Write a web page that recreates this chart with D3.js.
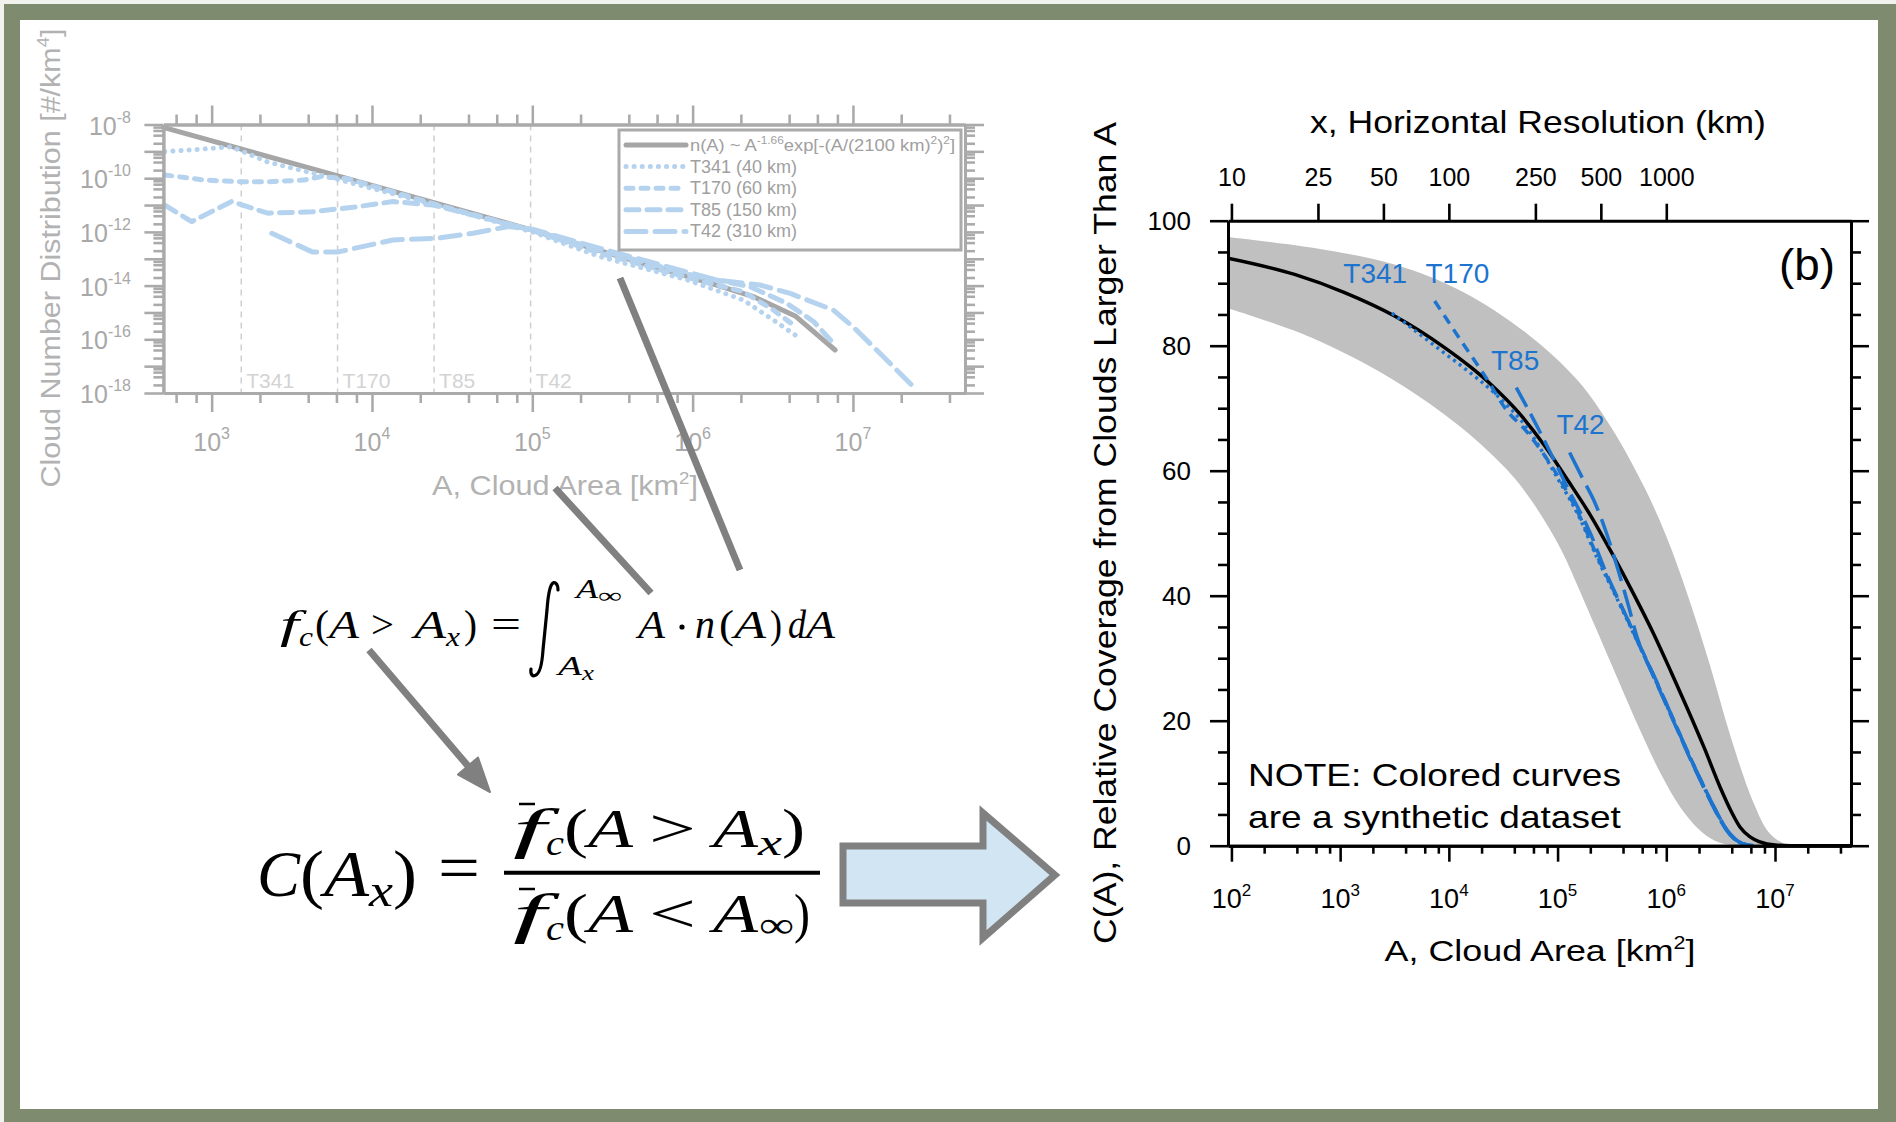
<!DOCTYPE html>
<html>
<head>
<meta charset="utf-8">
<title>Cloud number distribution and relative coverage</title>
<script src="https://cdn.jsdelivr.net/npm/d3@7/dist/d3.min.js"></script>
<style>
  html, body { margin: 0; padding: 0; background: #fff; }
  svg { display: block; }
  text { font-family: "Liberation Sans", Arial, Helvetica, sans-serif; }
  .math text { font-family: "Liberation Serif", "Times New Roman", serif; }
</style>
</head>
<body>
<svg id="fig" width="1896" height="1122"></svg>
<script>
// ---------------- Panel (a): cloud number distribution, pairs [A (km^2), n (#/km^4)] ----------------
const distFit = [[5.0e2, 7.8e-9], [1.0e4, 5.4e-11], [1.0e5, 1.17e-12], [2.64e5, 2.0e-13],
  [1.41e6, 1.05e-14], [2.39e6, 3.9e-15], [4.36e6, 7.4e-16], [7.74e6, 4.0e-17]];
const distT341 = [[510, 9.8e-10], [800, 1.17e-9], [1330, 1.48e-9], [2240, 4.0e-10], [6170, 8.9e-11],
  [2.5e4, 1.0e-11], [1.0e5, 1.0e-12], [2.64e5, 1.2e-13], [9.3e5, 1.62e-14], [2.07e6, 2.9e-15],
  [3.19e6, 5.2e-16], [4.36e6, 1.45e-16]];
const distT170 = [[510, 1.32e-10], [904, 8.5e-11], [1510, 7.4e-11], [2240, 7.4e-11], [3730, 8.5e-11],
  [4820, 1.15e-10], [7080, 9.5e-11], [2.5e4, 1.05e-11], [1.0e5, 1.12e-12], [2.64e5, 1.6e-13],
  [1.0e6, 1.8e-14], [2.07e6, 5.9e-15], [3.19e6, 1.23e-15], [4.26e6, 3.4e-16]];
const distT85 = [[510, 1.0e-11], [750, 2.4e-12], [1330, 1.35e-11], [2240, 5.0e-12], [4240, 5.6e-12],
  [7940, 8.5e-12], [1.35e4, 1.35e-11], [2.4e4, 1.0e-11], [1.0e5, 1.17e-12], [2.64e5, 2.1e-13],
  [1.0e6, 2.4e-14], [2.28e6, 9.1e-15], [3.86e6, 2.2e-15], [5.68e6, 4.6e-16], [7.55e6, 7.1e-17]];
const distT42 = [[2370, 8.9e-13], [4240, 1.8e-13], [6170, 1.8e-13], [1.35e4, 5.0e-13], [2.56e4, 5.8e-13],
  [4.27e4, 8.9e-13], [7.1e4, 1.58e-12], [1.0e5, 1.26e-12], [2.64e5, 2.45e-13], [1.41e6, 1.62e-14],
  [2.63e6, 1.05e-14], [4.06e6, 5.1e-15], [7.55e6, 1.23e-15], [1.0e7, 2.95e-16], [1.55e7, 2.24e-17],
  [2.44e7, 1.48e-18]];
const distLegendNames = ["T341 (40 km)", "T170 (60 km)", "T85 (150 km)", "T42 (310 km)"];
const guideArea = [1530, 6100, 24400, 97600];
const guideNames = ["T341", "T170", "T85", "T42"];
const distExpX = [3, 4, 5, 6, 7];
const distExpY = [-8, -10, -12, -14, -16, -18];

// ---------------- Panel (b): relative coverage C(A) in percent, pairs [A (km^2), C] ----------------
const covFit = [[93, 94.0], [381, 91.4], [1100, 88.5], [3170, 84.75], [9140, 79.7], [1.58e4, 76.6],
  [2.51e4, 73.6], [4.33e4, 69.4], [7.6e4, 64.0], [1.26e5, 58.3], [2.0e5, 52.9], [3.16e5, 46.8],
  [5.0e5, 40.3], [7.6e5, 34.0], [1.12e6, 27.6], [1.54e6, 22.2], [2.24e6, 15.6], [3.12e6, 9.4],
  [3.98e6, 5.4], [4.76e6, 3.0], [5.89e6, 1.4], [7.28e6, 0.6], [1.0e7, 0.1], [1.4e7, 0], [5.0e7, 0]];
const covBandUpper = [[93, 97.4], [540, 95.7], [3160, 93.0], [1.3e4, 88.75], [5.35e4, 81.8],
  [1.54e5, 74.4], [3.12e5, 66.9], [6.3e5, 57.3], [1.0e6, 49.5], [1.58e6, 40.0], [2.51e6, 29.0],
  [3.98e6, 17.0], [6.3e6, 7.0], [8.9e6, 2.0], [1.26e7, 0.2], [1.5e7, 0]];
const covBandLower = [[93, 86.0], [542, 81.3], [3170, 74.4], [1.3e4, 66.9], [3.75e4, 59.4],
  [5.6e4, 55.5], [7.9e4, 51.5], [1.12e5, 46.8], [1.58e5, 41.0], [2.29e5, 34.5], [3.55e5, 26.8],
  [5.73e5, 18.5], [8.9e5, 11.5], [1.34e6, 6.2], [2.0e6, 2.6], [2.8e6, 0.8], [4.0e6, 0.1]];
const covT341 = [[3000, 85.2], [3980, 83.6], [7400, 80.0], [1.41e4, 76.3], [2.64e4, 72.4],
  [5.35e4, 66.6], [1.0e5, 58.8], [1.58e5, 52.6], [2.29e5, 46.2], [3.55e5, 39.4], [5.35e5, 32.9],
  [7.94e5, 26.5], [1.16e6, 20.1], [1.66e6, 14.0], [2.36e6, 8.4], [2.88e6, 5.4], [3.6e6, 2.5],
  [4.27e6, 1.0], [5.1e6, 0.3], [6.3e6, 0]];
const covT170 = [[7400, 87.15], [1.3e4, 80.75], [2.29e4, 74.4], [3.26e4, 70.1], [5.35e4, 66.0],
  [1.0e5, 59.2], [1.58e5, 52.9], [2.29e5, 46.5], [3.55e5, 39.6], [5.35e5, 33.1], [7.94e5, 26.6],
  [1.16e6, 20.2], [1.66e6, 14.1], [2.36e6, 8.5], [2.88e6, 5.5], [3.6e6, 2.6], [4.27e6, 1.1],
  [5.1e6, 0.3], [6.3e6, 0]];
const covT85 = [[4.17e4, 73.3], [7.08e4, 65.8], [9.4e4, 61.5], [1.26e5, 57.0], [2.0e5, 50.0],
  [2.82e5, 43.5], [4.0e5, 37.8], [5.35e5, 33.0], [7.94e5, 26.4], [1.16e6, 20.0], [1.66e6, 13.9],
  [2.36e6, 8.3], [2.88e6, 5.3], [3.6e6, 2.4], [4.27e6, 1.0], [5.1e6, 0.3], [6.3e6, 0]];
const covT42 = [[1.29e5, 62.9], [1.73e5, 58.5], [2.19e5, 55.0], [2.82e5, 50.0], [3.55e5, 44.5],
  [4.47e5, 38.5], [5.35e5, 33.5], [7.94e5, 26.7], [1.16e6, 20.2], [1.66e6, 14.1], [2.36e6, 8.5],
  [2.88e6, 5.5], [3.6e6, 2.6], [4.27e6, 1.1], [5.1e6, 0.3], [6.3e6, 0]];
const covLabelNames = ["T341", "T170", "T85", "T42"];
const covLabelArea = [1070, 6100, 24400, 97600];
const covLabelValue = [90.1, 90.1, 76.1, 65.8];
const covExpX = [2, 3, 4, 5, 6, 7];
const covTicksY = [0, 20, 40, 60, 80, 100];
const covMinorY = [5, 10, 15, 25, 30, 35, 45, 50, 55, 65, 70, 75, 85, 90, 95];
const resolutionTicks = [10, 25, 50, 100, 250, 500, 1000];

// ---------------- helpers ----------------
const svg = d3.select("#fig");
const W = 1896, H = 1122;

function decadeTicks([lo, hi]) {
  const out = [];
  for (let e = Math.floor(Math.log10(lo)); e <= Math.ceil(Math.log10(hi)); e++) {
    const v = Math.pow(10, e);
    if (v >= lo * 0.999 && v <= hi * 1.001) out.push(v);
  }
  return out;
}
function minorLogTicks([lo, hi]) {
  const out = [];
  for (let e = Math.floor(Math.log10(lo)) - 1; e <= Math.ceil(Math.log10(hi)); e++)
    for (const m of [2, 4, 6, 8]) {
      const v = m * Math.pow(10, e);
      if (v >= lo * 0.999 && v <= hi * 1.001) out.push(v);
    }
  return out;
}
function tickAxis(parent, axisFn, scale, values, size, transform, color, width) {
  const a = parent.append("g").attr("transform", transform)
    .call(axisFn(scale).tickValues(values).tickSize(size).tickSizeOuter(0).tickFormat(() => ""));
  a.select(".domain").attr("stroke", color).attr("stroke-width", width);
  a.selectAll(".tick line").attr("stroke", color).attr("stroke-width", width * 0.85);
  a.selectAll(".tick text").remove();
  return a;
}
function powLabel(parent, x, y, exp, size, supSize, raise, anchor, color) {
  const t = parent.append("text").attr("x", x).attr("y", y).attr("text-anchor", anchor)
    .attr("font-size", size).attr("fill", color);
  t.append("tspan").text("10");
  t.append("tspan").attr("font-size", supSize).attr("dy", -raise).text(exp);
  return t;
}
// text drawn centred at (cx, y) and stretched horizontally to a given width
function fitText(parent, cx, y, width, size, color, build, rotate = 0, dy = 0) {
  const g = parent.append("g");
  const t = g.append("text").attr("text-anchor", "middle").attr("font-size", size)
    .attr("fill", color).attr("y", dy);
  build(t);
  const w = t.node().getComputedTextLength();
  g.attr("transform", `translate(${cx},${y}) rotate(${rotate}) scale(${width / w},1)`);
  return t;
}

// ---------------- slide frame ----------------
svg.append("rect").attr("width", W).attr("height", H).attr("fill", "#f1f2ee");
svg.append("rect").attr("x", 4).attr("y", 4).attr("width", W - 4).attr("height", H - 4).attr("fill", "#7f8b6e");
svg.append("rect").attr("x", 20).attr("y", 20).attr("width", 1858).attr("height", 1089).attr("fill", "#ffffff");

// ---------------- panel (a) ----------------
const gA = svg.append("g");
const xL = d3.scaleLog().domain([5e2, 5e7]).range([163.4, 965]);
const yL = d3.scaleLog().domain([1e-18, 1e-8]).range([393, 124.5]);
const axisGrey = "#aaaaaa";
const paleBlue = "#b5d3ee";

gA.selectAll("line.guide").data(guideArea).join("line").attr("class", "guide")
  .attr("x1", d => xL(d)).attr("x2", d => xL(d))
  .attr("y1", yL(1e-8)).attr("y2", yL(1e-18))
  .attr("stroke", "#cfcfcf").attr("stroke-width", 1.5).attr("stroke-dasharray", "6,5");
gA.selectAll("text.guide").data(guideNames).join("text").attr("class", "guide")
  .attr("x", (d, i) => xL(guideArea[i]) + 5).attr("y", 388)
  .attr("font-size", 21).attr("fill", "#d3d3d3").text(d => d);

const lineL = d3.line().x(d => xL(d[0])).y(d => yL(d[1]));
const distStyles = [
  { data: distFit, color: "#a6a6a6", dash: null, cap: "round" },
  { data: distT341, color: paleBlue, dash: "0.1,8", cap: "round" },
  { data: distT170, color: paleBlue, dash: "7,8", cap: "round" },
  { data: distT85, color: paleBlue, dash: "13,8", cap: "round" },
  { data: distT42, color: paleBlue, dash: "20,9", cap: "round" }
];
distStyles.forEach(s => {
  gA.append("path").attr("d", lineL(s.data)).attr("fill", "none")
    .attr("stroke", s.color).attr("stroke-width", 5).attr("stroke-linecap", s.cap)
    .attr("stroke-linejoin", "round").attr("stroke-dasharray", s.dash);
});

// axes of panel (a)
const xLdom = xL.domain(), yLdom = yL.domain();
tickAxis(gA, d3.axisBottom, xL, decadeTicks(xLdom), 19, `translate(0,${yL(1e-18)})`, axisGrey, 3);
tickAxis(gA, d3.axisBottom, xL, minorLogTicks(xLdom), 10, `translate(0,${yL(1e-18)})`, axisGrey, 3);
tickAxis(gA, d3.axisTop, xL, decadeTicks(xLdom), 19, `translate(0,${yL(1e-8)})`, axisGrey, 3);
tickAxis(gA, d3.axisTop, xL, minorLogTicks(xLdom), 10, `translate(0,${yL(1e-8)})`, axisGrey, 3);
tickAxis(gA, d3.axisLeft, yL, decadeTicks(yLdom), 19, `translate(${xL(5e2)},0)`, axisGrey, 3);
tickAxis(gA, d3.axisLeft, yL, minorLogTicks(yLdom), 10, `translate(${xL(5e2)},0)`, axisGrey, 3);
tickAxis(gA, d3.axisRight, yL, decadeTicks(yLdom), 19, `translate(${xL(5e7)},0)`, axisGrey, 3);
tickAxis(gA, d3.axisRight, yL, minorLogTicks(yLdom), 10, `translate(${xL(5e7)},0)`, axisGrey, 3);

distExpX.forEach(e => powLabel(gA, xL(Math.pow(10, e)), 451, String(e), 25, 16, 12, "middle", "#a8a8a8"));
distExpY.forEach(e => powLabel(gA, 131, yL(Math.pow(10, e)) + 10, String(e), 25, 16, 12, "end", "#a8a8a8"));

fitText(gA, 565, 495, 266, 28, "#b2b2b2", t => {
  t.append("tspan").text("A, Cloud Area [km");
  t.append("tspan").attr("font-size", 17).attr("dy", -11).text("2");
  t.append("tspan").attr("dy", 11).text("]");
});
fitText(gA, 50, 258, 459, 28, "#b2b2b2", t => {
  t.append("tspan").text("Cloud Number Distribution [#/km");
  t.append("tspan").attr("font-size", 17).attr("dy", -11).text("4");
  t.append("tspan").attr("dy", 11).text("]");
}, -90, 10);

// legend of panel (a)
const leg = gA.append("g");
leg.append("rect").attr("x", 619).attr("y", 130).attr("width", 342).attr("height", 120)
  .attr("fill", "#fff").attr("stroke", "#aaaaaa").attr("stroke-width", 3);
distStyles.forEach((s, i) => {
  const y = 151 + i * 21.6;
  leg.append("line").attr("x1", 626).attr("x2", 686).attr("y1", y - 6).attr("y2", y - 6)
    .attr("stroke", s.color).attr("stroke-width", 5).attr("stroke-linecap", s.cap)
    .attr("stroke-dasharray", s.dash);
  if (i > 0) {
    leg.append("text").attr("x", 690).attr("y", y).attr("font-size", 18).attr("fill", "#a0a0a0")
      .text(distLegendNames[i - 1]);
  }
});
{
  const t0 = leg.append("text").attr("x", 690).attr("y", 151).attr("font-size", 17).attr("fill", "#a0a0a0")
    .attr("textLength", 265).attr("lengthAdjust", "spacingAndGlyphs");
  t0.append("tspan").text("n(A) ~ A");
  t0.append("tspan").attr("font-size", 11).attr("dy", -7).text("-1.66");
  t0.append("tspan").attr("dy", 7).text("exp[-(A/(2100 km)");
  t0.append("tspan").attr("font-size", 11).attr("dy", -7).text("2");
  t0.append("tspan").attr("dy", 7).text(")");
  t0.append("tspan").attr("font-size", 11).attr("dy", -7).text("2");
  t0.append("tspan").attr("dy", 7).text("]");
}

// ---------------- panel (b) ----------------
const gB = svg.append("g");
const xR = d3.scaleLog().domain([93, 5e7]).range([1228, 1851]);
const yR = d3.scaleLinear().domain([0, 100]).range([845.7, 220.7]);
const blue = "#1c74cf";

svg.append("defs").append("clipPath").attr("id", "plotB").append("rect")
  .attr("x", xR(93)).attr("y", yR(100)).attr("width", xR(5e7) - xR(93)).attr("height", yR(0) - yR(100));
const plotB = gB.append("g").attr("clip-path", "url(#plotB)");

const bandLine = d3.line().x(d => xR(d[0])).y(d => yR(d[1])).curve(d3.curveCatmullRom.alpha(0.5));
plotB.append("path")
  .attr("d", bandLine(covBandUpper.concat(covBandLower.slice().reverse())) + "Z")
  .attr("fill", "#c0c0c0");

const lineR = d3.line().x(d => xR(d[0])).y(d => yR(d[1])).curve(d3.curveMonotoneX);
plotB.append("path").attr("d", lineR(covFit)).attr("fill", "none")
  .attr("stroke", "#000").attr("stroke-width", 3.5);
[
  { data: covT341, dash: "3,4" },
  { data: covT170, dash: "10,7" },
  { data: covT85, dash: "22,8" },
  { data: covT42, dash: "28,9" }
].forEach(s => {
  plotB.append("path").attr("d", lineR(s.data)).attr("fill", "none")
    .attr("stroke", blue).attr("stroke-width", 3.5).attr("stroke-dasharray", s.dash);
});

gB.selectAll("text.res").data(covLabelNames).join("text").attr("class", "res")
  .attr("x", (d, i) => xR(covLabelArea[i])).attr("y", (d, i) => yR(covLabelValue[i]))
  .attr("font-size", 28).attr("fill", blue).text(d => d);

// axes of panel (b)
const xRdom = xR.domain();
tickAxis(gB, d3.axisBottom, xR, decadeTicks(xRdom), 16, `translate(0,${yR(0)})`, "#000", 3);
tickAxis(gB, d3.axisBottom, xR, minorLogTicks(xRdom), 8, `translate(0,${yR(0)})`, "#000", 3);
tickAxis(gB, d3.axisRight, yR, covTicksY, 18, `translate(${xR(5e7)},0)`, "#000", 3);
tickAxis(gB, d3.axisRight, yR, covMinorY, 10, `translate(${xR(5e7)},0)`, "#000", 3);
tickAxis(gB, d3.axisLeft, yR, covMinorY, 10, `translate(${xR(93)},0)`, "#000", 3);

const leftAx = gB.append("g").attr("transform", `translate(${xR(93)},0)`)
  .call(d3.axisLeft(yR).tickValues(covTicksY).tickSize(18).tickSizeOuter(0).tickPadding(19));
leftAx.select(".domain").attr("stroke", "#000").attr("stroke-width", 3);
leftAx.selectAll(".tick line").attr("stroke", "#000").attr("stroke-width", 2.6);
leftAx.selectAll(".tick text").attr("font-size", 26).attr("font-family", "Liberation Sans, Arial, sans-serif")
  .attr("fill", "#000");

const topAx = gB.append("g").attr("transform", `translate(0,${yR(100)})`)
  .call(d3.axisTop(xR).tickValues(resolutionTicks.map(r => r * r)).tickSize(17).tickSizeOuter(0)
    .tickPadding(18).tickFormat((d, i) => resolutionTicks[i]));
topAx.select(".domain").attr("stroke", "#000").attr("stroke-width", 3);
topAx.selectAll(".tick line").attr("stroke", "#000").attr("stroke-width", 2.6);
topAx.selectAll(".tick text").attr("font-size", 25).attr("font-family", "Liberation Sans, Arial, sans-serif")
  .attr("fill", "#000");

covExpX.forEach(e => powLabel(gB, xR(Math.pow(10, e)), 908, String(e), 27, 17, 12, "middle", "#000"));

fitText(gB, 1538, 133, 456, 31, "#000", t => t.text("x, Horizontal Resolution (km)"));
fitText(gB, 1540, 961, 311, 30, "#000", t => {
  t.append("tspan").text("A, Cloud Area [km");
  t.append("tspan").attr("font-size", 18).attr("dy", -12).text("2");
  t.append("tspan").attr("dy", 12).text("]");
});
fitText(gB, 1105, 533, 822, 31, "#000",
  t => t.text("C(A), Relative Coverage from Clouds Larger Than A"), -90, 11);
fitText(gB, 1807, 280, 56, 44, "#000", t => t.text("(b)"));
fitText(gB, 1434.5, 786, 373, 32, "#000", t => t.text("NOTE: Colored curves"));
fitText(gB, 1434.5, 828, 373, 32, "#000", t => t.text("are a synthetic dataset"));

// ---------------- equations ----------------
function tok(g, s, x0, x1, y, size, italic) {
  g.append("text").attr("x", x0).attr("y", y).attr("font-size", size)
    .attr("font-style", italic ? "italic" : "normal")
    .attr("textLength", x1 - x0).attr("lengthAdjust", "spacingAndGlyphs").text(s);
}
const eq1 = svg.append("g").attr("class", "math").attr("fill", "#000");
tok(eq1, "f", 280, 299, 638, 40, true);
tok(eq1, "c", 299, 313, 646, 28, true);
tok(eq1, "(", 315, 329, 638, 40, false);
tok(eq1, "A", 329, 359, 638, 40, true);
tok(eq1, ">", 371, 394, 638, 40, false);
tok(eq1, "A", 414, 446, 638, 40, true);
tok(eq1, "x", 446, 460, 646, 28, true);
tok(eq1, ")", 464, 477, 638, 40, false);
tok(eq1, "=", 491, 521, 638, 40, false);
eq1.append("path")
  .attr("d", "M558,590 C558,583 554,581 552,584 C549,588 548,596 547,610 L543,650 C542,665 540,673 536,675 C533,677 530,675 531,669")
  .attr("fill", "none").attr("stroke", "#000").attr("stroke-width", 3.2).attr("stroke-linecap", "round");
tok(eq1, "A", 576, 598, 598, 28, true);
tok(eq1, "\u221E", 598, 622, 603, 22, false);
tok(eq1, "A", 558, 582, 675, 28, true);
tok(eq1, "x", 582, 594, 680, 20, true);
tok(eq1, "A", 638, 665, 638, 40, true);
eq1.append("circle").attr("cx", 682).attr("cy", 627).attr("r", 2.6);
tok(eq1, "n", 695, 715, 638, 40, true);
tok(eq1, "(", 719, 734, 638, 40, false);
tok(eq1, "A", 734, 766, 638, 40, true);
tok(eq1, ")", 770, 782, 638, 40, false);
tok(eq1, "d", 788, 806, 638, 40, true);
tok(eq1, "A", 806, 835, 638, 40, true);

const eq2 = svg.append("g").attr("class", "math").attr("fill", "#000");
tok(eq2, "C", 257, 300, 896, 66, true);
tok(eq2, "(", 300, 324, 896, 66, false);
tok(eq2, "A", 324, 369, 896, 66, true);
tok(eq2, "x", 369, 393, 906, 46, true);
tok(eq2, ")", 393, 417, 896, 66, false);
tok(eq2, "=", 438, 480, 890, 66, false);
[[847, ">", "x"], [932, "<", "\u221E"]].forEach(([y, rel, sub], k) => {
  tok(eq2, "f", 513, 546, y, 54, true);
  tok(eq2, "c", 546, 564, y + 8, 36, true);
  tok(eq2, "(", 564, 588, y, 54, false);
  tok(eq2, "A", 588, 633, y, 54, true);
  tok(eq2, rel, 649, 696, y, 54, false);
  tok(eq2, "A", 713, 758, y, 54, true);
  if (k === 0) { tok(eq2, sub, 758, 782, y + 8, 36, true); tok(eq2, ")", 782, 805, y, 54, false); }
  else { tok(eq2, sub, 759, 794, y + 5, 36, false); tok(eq2, ")", 794, 810, y, 54, false); }
  eq2.append("line").attr("x1", 519).attr("x2", 535).attr("y1", y - 43).attr("y2", y - 43)
    .attr("stroke", "#000").attr("stroke-width", 2.5);
});
eq2.append("line").attr("x1", 504).attr("x2", 820).attr("y1", 872.7).attr("y2", 872.7)
  .attr("stroke", "#000").attr("stroke-width", 4);

// ---------------- connectors and arrows ----------------
const conn = svg.append("g").attr("stroke", "#808080").attr("stroke-width", 7);
[[620, 278, 740, 570], [555, 488, 651, 593], [369, 650, 468, 766]].forEach(([x1, y1, x2, y2]) =>
  conn.append("line").attr("x1", x1).attr("y1", y1).attr("x2", x2).attr("y2", y2));
svg.append("polygon").attr("points", "490,792 458,774.5 478,757.5").attr("fill", "#808080")
  .attr("stroke", "#808080").attr("stroke-width", 2).attr("stroke-linejoin", "round");
svg.append("polygon")
  .attr("points", "843,846 983,846 983,813 1055,875 983,938 983,903 843,903")
  .attr("fill", "#d2e5f3").attr("stroke", "#808080").attr("stroke-width", 7).attr("stroke-linejoin", "miter");
</script>
</body>
</html>
